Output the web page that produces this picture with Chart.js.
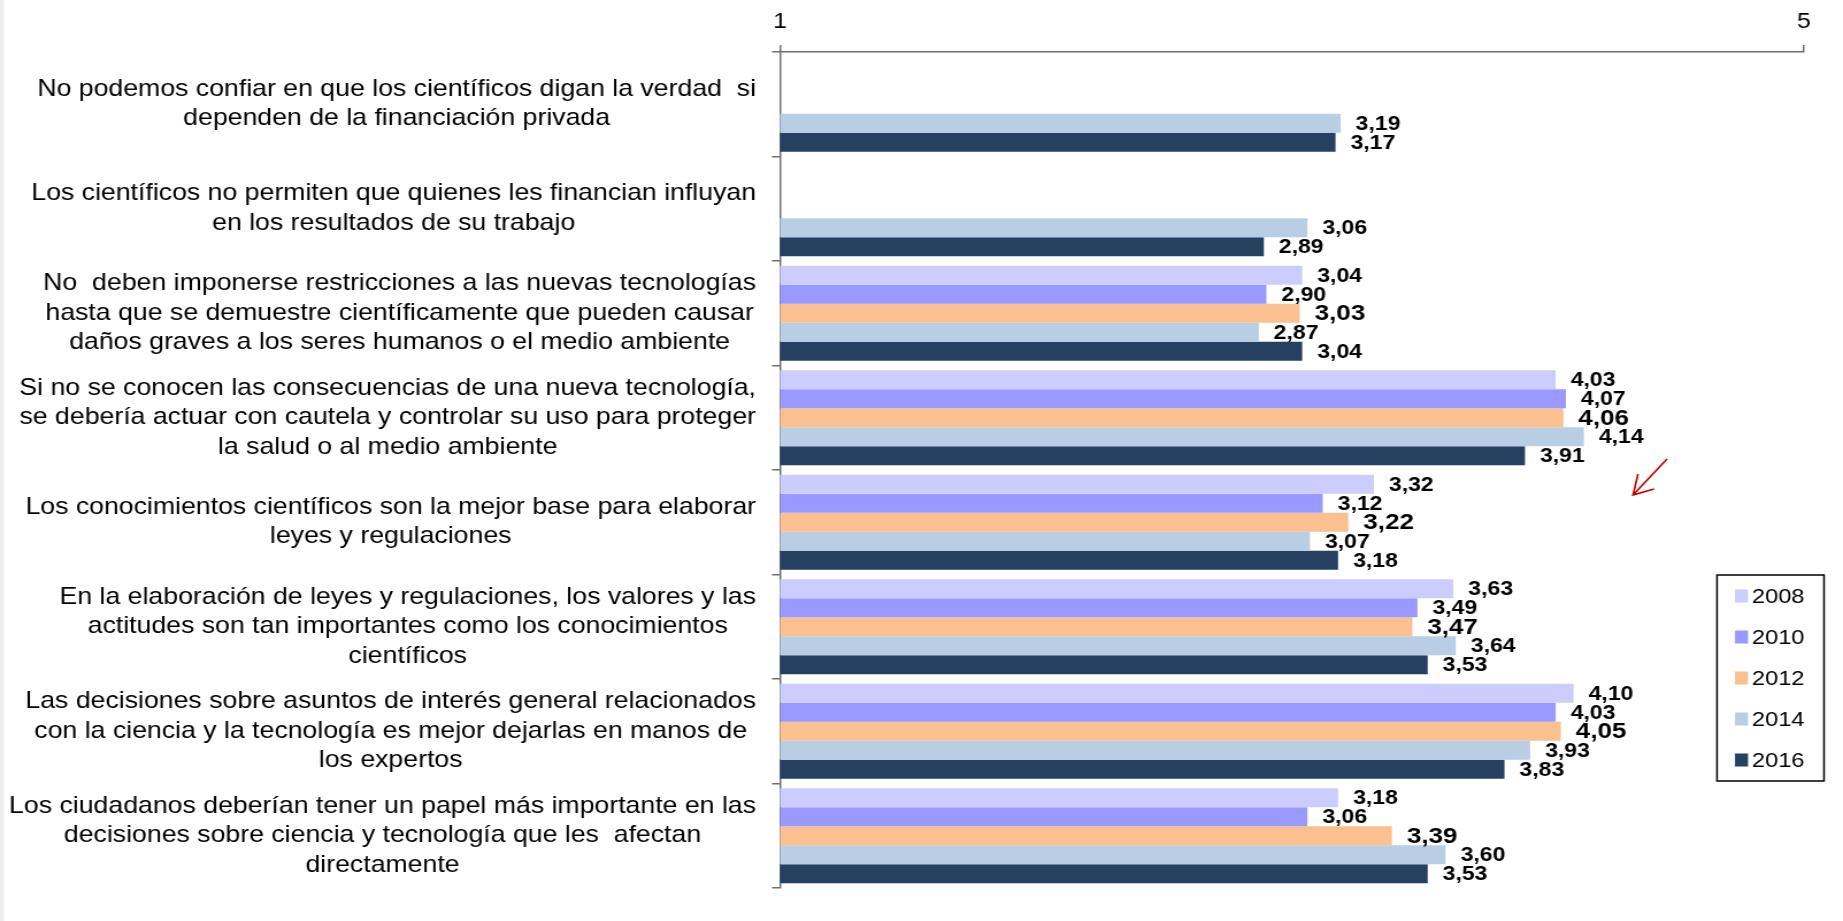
<!DOCTYPE html>
<html>
<head>
<meta charset="utf-8">
<script src="https://cdn.jsdelivr.net/npm/chart.js@4.4.1/dist/chart.umd.min.js"></script>
<style>
  html, body { margin: 0; padding: 0; background: #ffffff; overflow: hidden; }
  #wrap { width: 1843px; height: 921px; }
  #c { display: block; width: 1843px; height: 921px; }
</style>
</head>
<body>
<div id="wrap"><canvas id="c" width="1603" height="921" style="width:1843px;height:921px"></canvas></div>
<script>
// ---- data ----
const categories = [
  ["No podemos confiar en que los científicos digan la verdad  si", "dependen de la financiación privada"],
  ["Los científicos no permiten que quienes les financian influyan", "en los resultados de su trabajo"],
  ["No  deben imponerse restricciones a las nuevas tecnologías", "hasta que se demuestre científicamente que pueden causar", "daños graves a los seres humanos o el medio ambiente"],
  ["Si no se conocen las consecuencias de una nueva tecnología,", "se debería actuar con cautela y controlar su uso para proteger", "la salud o al medio ambiente"],
  ["Los conocimientos científicos son la mejor base para elaborar", "leyes y regulaciones"],
  ["En la elaboración de leyes y regulaciones, los valores y las", "actitudes son tan importantes como los conocimientos", "científicos"],
  ["Las decisiones sobre asuntos de interés general relacionados", "con la ciencia y la tecnología es mejor dejarlas en manos de", "los expertos"],
  ["Los ciudadanos deberían tener un papel más importante en las", "decisiones sobre ciencia y tecnología que les  afectan", "directamente"]
];
const seriesNames = ["2008", "2010", "2012", "2014", "2016"];
const values2008 = [null, null, 3.04, 4.03, 3.32, 3.63, 4.10, 3.18];
const values2010 = [null, null, 2.90, 4.07, 3.12, 3.49, 4.03, 3.06];
const values2012 = [null, null, 3.03, 4.06, 3.22, 3.47, 4.05, 3.39];
const values2014 = [3.19, 3.06, 2.87, 4.14, 3.07, 3.64, 3.93, 3.60];
const values2016 = [3.17, 2.89, 3.04, 3.91, 3.18, 3.53, 3.83, 3.53];
const axisTicks = [1, 5];

// ---- styles ----
// The original picture is horizontally stretched; the canvas is drawn
// narrower and displayed at full width (factor S).
const S = 1843 / 1603;
const FAMILY = "'Liberation Sans', Arial, sans-serif";
const colors = ["#CCCCFF", "#9999FF", "#FAC090", "#B9CDE5", "#254061"];
const labelSizes = [20, 20, 22.6, 20, 20];
const CAT_FONT = 23.2;
const CAT_LINE = 29.5;
const allValues = [values2008, values2010, values2012, values2014, values2016];

const datasets = seriesNames.map((name, i) => ({
  label: name,
  data: allValues[i],
  backgroundColor: colors[i],
  borderWidth: 0,
  barPercentage: 1.0,
  categoryPercentage: 0.91
}));

const valueLabels = {
  id: 'valueLabels',
  afterDatasetsDraw(chart) {
    const ctx = chart.ctx;
    ctx.save();
    ctx.fillStyle = '#000';
    ctx.textAlign = 'left';
    ctx.textBaseline = 'middle';
    chart.data.datasets.forEach((ds, di) => {
      const meta = chart.getDatasetMeta(di);
      ctx.font = 'bold ' + labelSizes[di] + 'px ' + FAMILY;
      meta.data.forEach((el, i) => {
        const v = ds.data[i];
        if (v === null || v === undefined) return;
        ctx.fillText(v.toFixed(2).replace('.', ','), el.x + 15 / S, el.y + 1);
      });
    });
    ctx.restore();
  }
};

const decor = {
  id: 'decor',
  beforeDraw(chart) {
    const ctx = chart.ctx;
    ctx.save();
    ctx.fillStyle = '#ffffff';
    ctx.fillRect(0, 0, chart.width, chart.height);
    ctx.fillStyle = '#EEEEEE';
    ctx.fillRect(0, 0, 4 / S, chart.height);
    ctx.restore();
  },
  afterDraw(chart) {
    const ctx = chart.ctx;
    ctx.save();
    // legend box
    ctx.strokeStyle = '#000';
    ctx.lineWidth = 1.5;
    ctx.strokeRect(1717 / S, 575, 107 / S, 206);
    ctx.font = '20.5px ' + FAMILY;
    ctx.textBaseline = 'middle';
    ctx.textAlign = 'left';
    chart.data.datasets.forEach((ds, i) => {
      const cy = 596 + i * 41;
      ctx.fillStyle = ds.backgroundColor;
      ctx.fillRect(1735 / S, cy - 6.5, 13 / S, 13);
      ctx.fillStyle = '#000';
      ctx.fillText(ds.label, 1752 / S, cy + 1);
    });
    // red arrow
    ctx.strokeStyle = '#C00000';
    ctx.lineWidth = 1.6;
    ctx.beginPath();
    ctx.moveTo(1667 / S, 459);
    ctx.lineTo(1633 / S, 495);
    ctx.moveTo(1638 / S, 474);
    ctx.lineTo(1633 / S, 495);
    ctx.lineTo(1654 / S, 489);
    ctx.stroke();
    ctx.restore();
  }
};

// Each label block: widest line right-aligned next to the axis, lines centred within the block.
function patchYLabels(scale) {
  if (scale._blockPatched) return;
  const orig = scale._computeLabelItems;
  if (typeof orig !== 'function') return;
  scale._computeLabelItems = function (chartArea) {
    const items = orig.call(this, chartArea);
    try {
      const ctx = this.ctx;
      ctx.save();
      ctx.font = CAT_FONT + 'px ' + FAMILY;
      const blockW = items.map(it => {
        const lines = Array.isArray(it.label) ? it.label : [it.label];
        return Math.max(...lines.map(l => ctx.measureText(l).width));
      });
      ctx.restore();
      const widest = Math.max(...blockW);
      items.forEach((it, i) => {
        if (it.options && it.options.translation) {
          it.options.translation[0] += (widest - blockW[i]) / 2;
        }
      });
    } catch (e) { /* keep default placement */ }
    return items;
  };
  scale._blockPatched = true;
  scale._labelItems = null;
}

new Chart(document.getElementById('c'), {
  type: 'bar',
  data: { labels: categories, datasets },
  options: {
    indexAxis: 'y',
    responsive: false,
    devicePixelRatio: 1,
    animation: false,
    layout: { padding: { left: 0, right: 39 / S, top: 0, bottom: 33 } },
    plugins: { legend: { display: false }, tooltip: { enabled: false } },
    scales: {
      x: {
        position: 'top',
        min: axisTicks[0],
        max: axisTicks[1],
        afterBuildTicks(scale) { scale.ticks = axisTicks.map(v => ({ value: v })); },
        afterFit(scale) { scale.height = 52; scale.paddingLeft = 0; scale.paddingRight = 0; },
        ticks: { color: '#000', font: { size: 21.5, family: FAMILY }, padding: 10, maxRotation: 0 },
        grid: { drawOnChartArea: false, tickLength: 7, color: '#707070', lineWidth: 1.5 },
        border: { color: '#707070', width: 1.5 }
      },
      y: {
        afterFit(scale) { scale.width = 780 / S; scale.paddingTop = 0; scale.paddingBottom = 0; },
        afterUpdate(scale) { patchYLabels(scale); },
        ticks: {
          color: '#000',
          autoSkip: false,
          crossAlign: 'center',
          padding: 16 / S,
          font: { size: CAT_FONT, family: FAMILY, lineHeight: CAT_LINE / CAT_FONT }
        },
        grid: { offset: true, drawOnChartArea: false, tickLength: 8 / S, color: '#707070', lineWidth: 1.5 },
        border: { color: '#707070', width: 1.5 }
      }
    }
  },
  plugins: [decor, valueLabels]
});
</script>
</body>
</html>
